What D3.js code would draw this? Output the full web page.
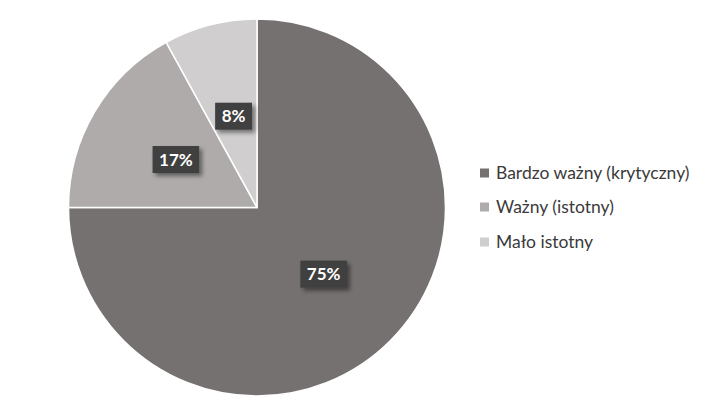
<!DOCTYPE html>
<html><head><meta charset="utf-8">
<script src="https://cdn.jsdelivr.net/npm/d3@7"></script>
<style>html,body{margin:0;padding:0;background:#fff;}</style>
</head><body>
<svg id="chart" width="707" height="415"></svg>
<script>
const categories = ["Bardzo ważny (krytyczny)", "Ważny (istotny)", "Mało istotny"];
const values = [75, 17, 8];
const labels = ["75%", "17%", "8%"];
const colors = ["#767171", "#AFABAB", "#D0CECE"];

const svg = d3.select("#chart");
const cx = 257, cy = 207.5, r = 188.5;

const defs = svg.append("defs");
const f = defs.append("filter").attr("id","sh").attr("x","-30%").attr("y","-30%").attr("width","170%").attr("height","170%");
f.append("feDropShadow").attr("dx",3).attr("dy",3).attr("stdDeviation",2.2).attr("flood-color","#000").attr("flood-opacity",0.45);

const pie = d3.pie().sort(null).value(d => d)(values);
const arc = d3.arc().innerRadius(0).outerRadius(r);
const g = svg.append("g").attr("transform", `translate(${cx},${cy})`);

g.selectAll("path.slice").data(pie).enter().append("path")
  .attr("class","slice").attr("d", arc)
  .attr("fill", (d,i) => colors[i])
  .attr("stroke", "#fff").attr("stroke-width", 1.5);

const lab = g.selectAll("g.lab").data(pie).enter().append("g")
  .attr("class","lab")
  .attr("transform", d => { const c = arc.centroid(d); return `translate(${c[0]},${c[1]})`; });

lab.each(function(d,i){
  const s = d3.select(this);
  const t = s.append("text").text(labels[i])
    .attr("text-anchor","middle").attr("dy","0.36em")
    .attr("font-family","Lato, 'Open Sans', sans-serif").attr("font-weight","bold")
    .attr("font-size", 17).attr("fill","#fff");
  const w = t.node().getComputedTextLength();
  s.insert("rect","text")
    .attr("x", -w/2 - 6.5).attr("y", -13.5)
    .attr("width", w + 13).attr("height", 27)
    .attr("fill", "#3f3f3f").attr("filter","url(#sh)");
});

const legY = [173, 207, 242];
const leg = svg.append("g");
categories.forEach((c,i) => {
  leg.append("rect").attr("x", 480).attr("y", legY[i]-4.5).attr("width", 9).attr("height", 9).attr("fill", colors[i]);
  leg.append("text").attr("x", 496).attr("y", legY[i]).attr("dy","0.35em")
    .attr("font-family","Lato, 'Open Sans', sans-serif").attr("font-size", 17.5)
    .attr("fill","#3a3a3a").text(c);
});
</script>
</body></html>
